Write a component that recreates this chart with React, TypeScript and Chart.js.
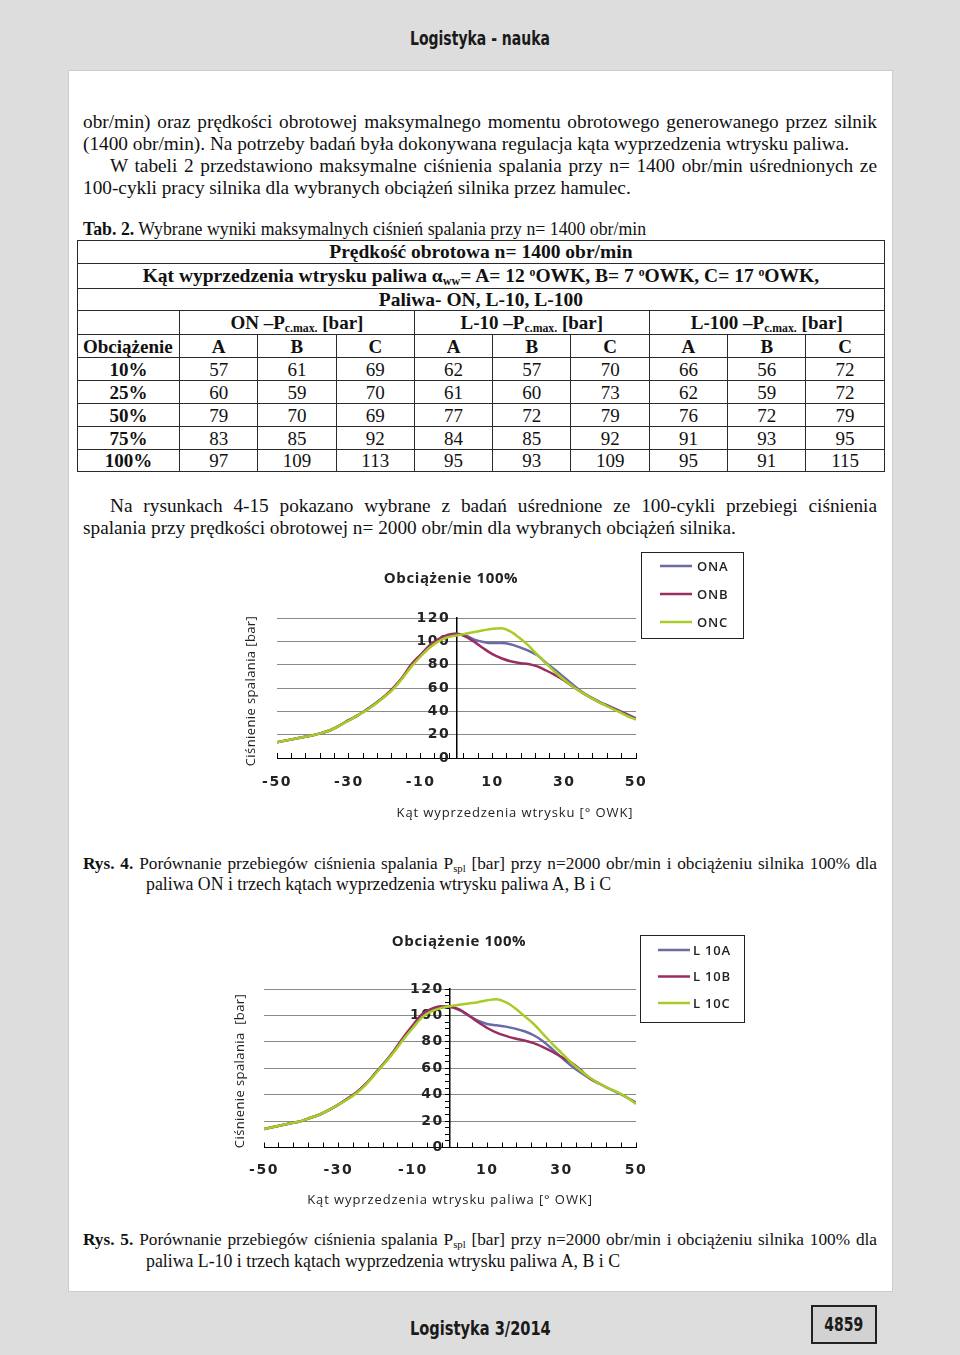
import React, { useEffect, useRef } from "react";
import { Chart, registerables } from "chart.js";

Chart.register(...registerables);

// ---------- data ----------
const ANGLES = [-50, -47.5, -45, -42.5, -40, -37.5, -35, -32.5, -30, -27.5, -25, -22.5, -20, -17.5, -15, -12.5, -10, -7.5, -5, -2.5, 0, 2.5, 5, 7.5, 10, 12.5, 15, 17.5, 20, 22.5, 25, 27.5, 30, 32.5, 35, 37.5, 40, 42.5, 45, 47.5, 50];

const ON_A = [13.5, 15, 16.5, 18, 19.5, 21.5, 24, 28, 32.5, 36.5, 41.5, 47, 53, 60, 69, 80, 88, 96, 101.5, 105, 106.5, 105, 101.5, 99.5, 98.5, 98.5, 97.5, 95, 92, 88, 81.5, 75.5, 69, 62.5, 56.5, 52, 48, 44.5, 41, 37.5, 34];
const ON_B = [13.5, 15, 16.5, 18, 19.5, 21.5, 24, 28, 32.5, 36.5, 41.5, 47, 53, 60.5, 69.5, 80.5, 88.5, 96.5, 102, 105.5, 106.5, 104, 99.5, 94, 89, 85.5, 83, 81.5, 80.5, 78.5, 75, 71, 66.5, 61, 56, 51.5, 47.5, 44, 40.5, 37, 33.5];
const ON_C = [13.5, 15, 16.5, 18, 19.5, 21.5, 24, 28, 32, 36.5, 41, 46.5, 52.5, 59.5, 68.5, 78.5, 87, 94.5, 100, 103.5, 105, 106.5, 108, 109.5, 110.8, 111.3, 108.5, 103, 96.5, 88.5, 81, 73.5, 67, 61, 56, 51.5, 47.5, 43.5, 40, 36, 33];

const L10_A = [14, 15.5, 17, 18.5, 20, 22.5, 25, 28.5, 32.5, 37, 42, 48.5, 56.5, 64.5, 73, 83, 92, 100.5, 104, 106, 106.5, 104, 100, 96, 93.5, 92.5, 91.5, 90, 88, 85, 80.5, 74.5, 68, 62, 57, 52.5, 48.5, 45, 41.5, 38, 34];
const L10_B = [14, 15.5, 17, 18.5, 20, 22.5, 25, 28.5, 32.5, 37, 42, 48.5, 56.5, 64.5, 73.5, 83.5, 92.5, 101, 105, 107, 106.5, 104.5, 100, 95, 90.5, 87, 84.5, 82.5, 81, 79, 76, 72.5, 68.5, 64.5, 59, 52.5, 48.5, null, null, null, null];
const L10_C = [14, 15.5, 17, 18.5, 20, 22.5, 25, 28.5, 32.5, 36.5, 41.5, 48, 56, 64, 72.5, 82, 90.5, 98.5, 103, 105.5, 107, 108, 109, 110, 111.5, 112.3, 110, 105.5, 99.5, 93.5, 86, 78.5, 71.5, 64.5, 58.5, 53, 48.5, 45, 42, 38, 33];

const ON_LABELS = ["ONA", "ONB", "ONC"];
const L10_LABELS = ["L 10A", "L 10B", "L 10C"];
const SERIES_COLORS = ["#6a6aa6", "#9a2d62", "#a8cc26"];

const X_LABELED_TICKS = [-50, -30, -10, 10, 30, 50];
const X_MINOR_STEP = 4;
const Y_LABEL_STEP = 20;

const LOADS = ["10%", "25%", "50%", "75%", "100%"];
const ON_TABLE = [[57, 61, 69], [60, 59, 70], [79, 70, 69], [83, 85, 92], [97, 109, 113]];
const L10_TABLE = [[62, 57, 70], [61, 60, 73], [77, 72, 79], [84, 85, 92], [95, 93, 109]];
const L100_TABLE = [[66, 56, 72], [62, 59, 72], [76, 72, 79], [91, 93, 95], [95, 91, 115]];

// ---------- styles ----------
const FONT_SANS = "'Open Sans', 'DejaVu Sans', sans-serif";
const FONT_TICK = "'DejaVu Sans', 'Open Sans', sans-serif";
const FONT_SERIF = "'Liberation Serif', 'Times New Roman', serif";
const FONT_HEAD = "'DejaVu Sans', 'Open Sans', sans-serif";

const spacingPlugin = {
  id: "spacing",
  beforeDraw(chart: any) {
    chart.ctx.letterSpacing = "1.5px";
  },
  afterDraw(chart: any) {
    chart.ctx.letterSpacing = "0px";
  },
};

const decorPlugin = {
  id: "decor",
  afterDraw(chart: any, _args: any, opts: any) {
    const ctx = chart.ctx;
    ctx.save();
    ctx.fillStyle = "#222";
    ctx.textAlign = "center";
    ctx.textBaseline = "middle";
    ctx.letterSpacing = "0.6px";
    ctx.font = `bold 15px ${FONT_SANS}`;
    ctx.fillText(opts.title, opts.titleX, opts.titleY);
    ctx.letterSpacing = "0.9px";
    ctx.font = `13px ${FONT_SANS}`;
    ctx.fillText(opts.xTitle, opts.xTitleX, opts.xTitleY);
    ctx.save();
    ctx.letterSpacing = "0.4px";
    ctx.translate(opts.yTitleX, opts.yTitleY);
    ctx.rotate(-Math.PI / 2);
    ctx.fillText(opts.yTitle, 0, 0);
    ctx.restore();
    // legend
    const L = opts.legend;
    ctx.strokeStyle = "#222";
    ctx.lineWidth = 1;
    ctx.strokeRect(L.x + 0.5, L.y + 0.5, L.w, L.h);
    ctx.textAlign = "left";
    ctx.letterSpacing = "0.8px";
    ctx.font = `600 13px ${FONT_SANS}`;
    chart.data.datasets.forEach((ds: any, i: number) => {
      const y = L.y + L.row0 + i * L.rowGap;
      ctx.strokeStyle = ds.borderColor;
      ctx.lineWidth = 2.5;
      ctx.beginPath();
      ctx.moveTo(L.x + L.line0, y);
      ctx.lineTo(L.x + L.line1, y);
      ctx.stroke();
      ctx.fillStyle = "#222";
      ctx.fillText(ds.label, L.x + L.text0, y + 1);
    });
    ctx.restore();
  },
};

type ChartProps = {
  left: number; top: number; width: number; height: number;
  series: (number | null)[][];
  labels: string[];
  padding: { left: number; right: number; top: number; bottom: number };
  xTickPad: number;
  yStep: number;
  yTicks: boolean;
  decor: any;
};

function PressureChart(p: ChartProps) {
  const ref = useRef<HTMLCanvasElement>(null);
  useEffect(() => {
    if (!ref.current) return;
    const tickFont = { family: FONT_TICK, size: 14, weight: "bold" as const };
    const chart = new Chart(ref.current, {
      type: "line",
      data: {
        datasets: p.series.map((vals, i) => ({
          label: p.labels[i],
          data: ANGLES.map((x, j) => ({ x, y: vals[j] })),
          borderColor: SERIES_COLORS[i],
          backgroundColor: SERIES_COLORS[i],
          borderWidth: 2.5,
          pointRadius: 0,
          cubicInterpolationMode: "monotone" as const,
          fill: false,
          spanGaps: false,
          order: 3 - i,
          yAxisID: "y",
        })),
      },
      options: {
        responsive: false,
        maintainAspectRatio: false,
        animation: false,
        layout: { padding: p.padding },
        plugins: {
          legend: { display: false },
          tooltip: { enabled: false },
          title: { display: false },
          // @ts-ignore
          decor: p.decor,
        },
        scales: {
          x: {
            type: "linear",
            min: -50,
            max: 50,
            position: "bottom",
            afterBuildTicks: (s: any) => {
              const t: any[] = [];
              for (let v = -50; v <= 50; v += X_MINOR_STEP) t.push({ value: v });
              s.ticks = t;
            },
            afterFit: (s: any) => { s.height = 40; },
            grid: { display: true, drawOnChartArea: false, drawTicks: true, tickLength: -5, tickColor: "#000", tickWidth: 1 },
            border: { display: true, color: "#000", width: 1 },
            ticks: {
              autoSkip: false, maxRotation: 0, minRotation: 0, padding: p.xTickPad, color: "#222", font: tickFont,
              callback: (v: any) => (X_LABELED_TICKS.includes(Number(v)) ? String(v) : ""),
            },
          },
          // grid, axis line and minor tick marks (below the curves)
          y: {
            type: "linear",
            min: 0,
            max: 120,
            position: { x: 0 } as any,
            ticks: {
              stepSize: p.yStep, autoSkip: false, display: false,
            },
            grid: {
              color: (c: any) => (c.tick && c.tick.value % Y_LABEL_STEP === 0 && c.tick.value !== 0 ? "#8a8a8a" : "rgba(0,0,0,0)"),
              lineWidth: 1,
              drawTicks: p.yTicks,
              tickLength: 4,
              tickColor: "#000",
            },
            border: { display: true, color: "#000", width: 1.5 },
          },
          // value labels drawn above the curves, as in the original
          yLabels: {
            type: "linear",
            axis: "y",
            min: 0,
            max: 120,
            position: { x: 0 } as any,
            z: 2,
            ticks: {
              stepSize: Y_LABEL_STEP, autoSkip: false, color: "#222", font: tickFont, padding: 0,
              callback: (v: any) => String(v) + " ",
            },
            grid: { display: false, drawTicks: false },
            border: { display: false },
          },
        },
      },
      plugins: [spacingPlugin, decorPlugin],
    });
    return () => chart.destroy();
  }, []);
  return (
    <canvas
      ref={ref}
      width={p.width}
      height={p.height}
      style={{ position: "absolute", left: p.left, top: p.top, width: p.width, height: p.height }}
    />
  );
}

function TextLine({ top, left, width, justify, size = 19.3, children }: any) {
  return (
    <div
      style={{
        position: "absolute", top, left, width, height: 22, lineHeight: "22px",
        fontFamily: FONT_SERIF, fontSize: size, color: "#111",
        textAlign: justify ? "justify" : "left",
        textAlignLast: justify ? "justify" : "left",
        whiteSpace: justify ? "normal" : "nowrap",
      } as any}
    >
      {children}
    </div>
  );
}

function NarrowText({ cx, cy, scale, size, children }: any) {
  return (
    <div style={{ position: "absolute", left: cx - 200, width: 400, top: cy - 14, height: 28, textAlign: "center" }}>
      <span
        style={{
          display: "inline-block", transform: `scaleX(${scale})`, transformOrigin: "center",
          fontFamily: FONT_HEAD, fontWeight: "bold", fontSize: size, lineHeight: "28px", color: "#1a1a1a",
        }}
      >
        {children}
      </span>
    </div>
  );
}

const sub = { fontSize: "0.62em", verticalAlign: "-0.25em", lineHeight: 0 } as const;
const sup = { fontSize: "0.6em", verticalAlign: "0.55em", lineHeight: 0 } as const;

function DataTable() {
  const b = "1px solid #2a2a2a";
  const cell = { border: b, padding: 0, textAlign: "center" as const, lineHeight: 1 };
  const head = { ...cell, fontWeight: "bold" as const, fontSize: 19.5 };
  const groups = [ON_TABLE, L10_TABLE, L100_TABLE];
  return (
    <table
      style={{
        position: "absolute", left: 77, top: 240, width: 807, borderCollapse: "collapse",
        tableLayout: "fixed", fontFamily: FONT_SERIF, fontSize: 19, color: "#111",
      }}
    >
      <colgroup>
        <col style={{ width: 102 }} />
        {Array.from({ length: 9 }).map((_, i) => <col key={i} style={{ width: 78.3 }} />)}
      </colgroup>
      <tbody>
        <tr style={{ height: 23 }}>
          <td colSpan={10} style={head}>Prędkość obrotowa n= 1400 obr/min</td>
        </tr>
        <tr style={{ height: 25 }}>
          <td colSpan={10} style={head}>
            Kąt wyprzedzenia wtrysku paliwa α<span style={sub}>ww</span>= A= 12 <span style={sup}>o</span>OWK, B= 7 <span style={sup}>o</span>OWK, C= 17 <span style={sup}>o</span>OWK,
          </td>
        </tr>
        <tr style={{ height: 22 }}>
          <td colSpan={10} style={head}>Paliwa- ON, L-10, L-100</td>
        </tr>
        <tr style={{ height: 24 }}>
          <td style={cell}></td>
          {["ON", "L-10", "L-100"].map((f) => (
            <td key={f} colSpan={3} style={{ ...cell, fontWeight: "bold" }}>
              {f} –P<span style={sub}>c.max.</span> [bar]
            </td>
          ))}
        </tr>
        <tr style={{ height: 23 }}>
          <td style={{ ...cell, fontWeight: "bold", textAlign: "left", paddingLeft: 5 }}>Obciążenie</td>
          {groups.map((_, gi) => ["A", "B", "C"].map((k) => (
            <td key={gi + k} style={{ ...cell, fontWeight: "bold" }}>{k}</td>
          )))}
        </tr>
        {LOADS.map((load, ri) => (
          <tr key={load} style={{ height: ri === 4 ? 22 : 23 }}>
            <td style={{ ...cell, fontWeight: "bold" }}>{load}</td>
            {groups.map((g, gi) => g[ri].map((v, ci) => (
              <td key={gi + "-" + ci} style={cell}>{v}</td>
            )))}
          </tr>
        ))}
      </tbody>
    </table>
  );
}

export default function App() {
  return (
    <div style={{ position: "absolute", left: 0, top: 0, width: 960, height: 1355, background: "#dddddd", overflow: "hidden" }}>
      <NarrowText cx={480} cy={38} scale={0.7} size={20}>Logistyka - nauka</NarrowText>
      <div style={{ position: "absolute", left: 68, top: 70, width: 823, height: 1220, background: "#ffffff", border: "1px solid #cccccc" }} />

      <TextLine top={111} left={83} width={794} justify>obr/min) oraz prędkości obrotowej maksymalnego momentu obrotowego generowanego przez silnik</TextLine>
      <TextLine top={133} left={83} width={794}>(1400 obr/min). Na potrzeby badań była dokonywana regulacja kąta wyprzedzenia wtrysku paliwa.</TextLine>
      <TextLine top={155} left={110} width={767} justify>W tabeli 2 przedstawiono maksymalne ciśnienia spalania przy n= 1400 obr/min uśrednionych ze</TextLine>
      <TextLine top={177} left={83} width={794}>100-cykli pracy silnika dla wybranych obciążeń silnika przez hamulec.</TextLine>
      <TextLine top={218} left={83} width={794} size={17.8}><b>Tab. 2.</b> Wybrane wyniki maksymalnych ciśnień spalania przy n= 1400 obr/min</TextLine>

      <DataTable />

      <TextLine top={495} left={110} width={767} justify>Na rysunkach 4-15 pokazano wybrane z badań uśrednione ze 100-cykli przebiegi ciśnienia</TextLine>
      <TextLine top={517} left={83} width={794}>spalania przy prędkości obrotowej n= 2000 obr/min dla wybranych obciążeń silnika.</TextLine>

      <PressureChart
        left={235} top={550} width={525} height={280}
        series={[ON_A, ON_B, ON_C]}
        labels={ON_LABELS}
        padding={{ left: 42, right: 124, top: 68, bottom: 32 }}
        xTickPad={21}
        yStep={20}
        yTicks={false}
        decor={{
          title: "Obciążenie 100%", titleX: 216, titleY: 29,
          xTitle: "Kąt wyprzedzenia wtrysku [° OWK]", xTitleX: 280, xTitleY: 263,
          yTitle: "Ciśnienie spalania [bar]", yTitleX: 16, yTitleY: 141,
          legend: { x: 406, y: 2, w: 102, h: 86, row0: 14, rowGap: 28, line0: 19, line1: 51, text0: 56 },
        }}
      />

      <TextLine top={853} left={83} width={794} size={17.3} justify>
        <b>Rys. 4.</b> Porównanie przebiegów ciśnienia spalania P<span style={sub}>spl</span> [bar] przy n=2000 obr/min i obciążeniu silnika 100% dla
      </TextLine>
      <TextLine top={873} left={146} width={731} size={17.8}>paliwa ON i trzech kątach wyprzedzenia wtrysku paliwa A, B i C</TextLine>

      <PressureChart
        left={222} top={925} width={540} height={290}
        series={[L10_A, L10_B, L10_C]}
        labels={L10_LABELS}
        padding={{ left: 42, right: 126, top: 64, bottom: 27.5 }}
        xTickPad={19}
        yStep={5}
        yTicks={true}
        decor={{
          title: "Obciążenie 100%", titleX: 237, titleY: 17,
          xTitle: "Kąt wyprzedzenia wtrysku paliwa [° OWK]", xTitleX: 228, xTitleY: 275,
          yTitle: "Ciśnienie spalania  [bar]", yTitleX: 18, yTitleY: 146,
          legend: { x: 418, y: 10, w: 104, h: 87, row0: 15, rowGap: 26.5, line0: 18, line1: 50, text0: 53 },
        }}
      />

      <TextLine top={1229} left={83} width={794} size={17.3} justify>
        <b>Rys. 5.</b> Porównanie przebiegów ciśnienia spalania P<span style={sub}>spl</span> [bar] przy n=2000 obr/min i obciążeniu silnika 100% dla
      </TextLine>
      <TextLine top={1250} left={146} width={731} size={17.8}>paliwa L-10 i trzech kątach wyprzedzenia wtrysku paliwa A, B i C</TextLine>

      <NarrowText cx={480} cy={1328} scale={0.73} size={20}>Logistyka 3/2014</NarrowText>
      <div style={{ position: "absolute", left: 811, top: 1305, width: 62, height: 35, border: "2px solid #222", background: "#d2d2d2" }} />
      <NarrowText cx={844} cy={1324} scale={0.7} size={20}>4859</NarrowText>
    </div>
  );
}
